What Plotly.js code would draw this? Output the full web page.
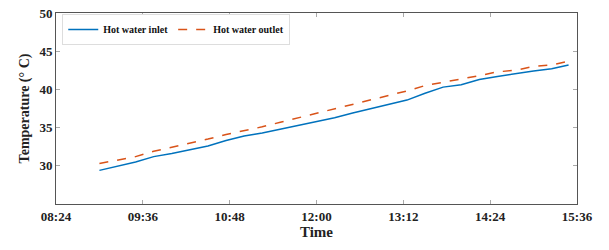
<!DOCTYPE html>
<html>
<head>
<meta charset="utf-8">
<script src="https://cdn.plot.ly/plotly-3.0.1.min.js"></script>
<style>html,body{margin:0;padding:0;background:#fff;}#chart{width:609px;height:250px;}</style>
</head>
<body>
<div id="chart"></div>
<script>
const times = ["09:00","09:15","09:30","09:45","10:00","10:15","10:30","10:45","11:00","11:15","11:30","11:45","12:00","12:15","12:30","12:45","13:00","13:15","13:30","13:45","14:00","14:15","14:30","14:45","15:00","15:15","15:29"];
const inletTemp = [29.4,29.9,30.5,31.2,31.6,32.1,32.6,33.3,33.9,34.3,34.8,35.2,35.8,36.3,36.9,37.5,38.1,38.6,39.5,40.3,40.6,41.3,41.7,42.1,42.4,42.7,43.2];
const outletTemp = [30.3,30.7,31.2,31.9,32.4,33.0,33.5,34.1,34.6,35.1,35.7,36.3,36.8,37.4,38.0,38.6,39.2,39.8,40.5,40.9,41.3,41.8,42.3,42.5,43.0,43.2,43.7];
const yTicks = [30,35,40,45,50];
const seriesNames = ["Hot water inlet","Hot water outlet"];

const day = "2020-01-01 ";
const x = times.map(t => day + t);
const font = "Liberation Serif, Times New Roman, serif";

const traces = [
  {x: x, y: inletTemp, name: seriesNames[0], type: "scatter", mode: "lines",
   line: {color: "#0072BD", width: 1.5}},
  {x: x, y: outletTemp, name: seriesNames[1], type: "scatter", mode: "lines",
   line: {color: "#D95319", width: 1.5, dash: "dash"}}
];

const layout = {
  width: 609, height: 250,
  margin: {l: 56, r: 32, t: 13, b: 46},
  paper_bgcolor: "#fff", plot_bgcolor: "#fff",
  font: {family: font, color: "#262626"},
  showlegend: true,
  legend: {orientation: "h", x: 0.012, y: 0.995, xanchor: "left", yanchor: "top",
    font: {family: font, size: 10, color: "#111", weight: "bold"},
    bgcolor: "#fff", bordercolor: "#ddd", borderwidth: 1,
    itemwidth: 30, tracegroupgap: 0},
  xaxis: {
    type: "date",
    range: [day + "08:24", day + "15:36"],
    tick0: day + "08:24", dtick: 72 * 60 * 1000,
    tickformat: "%H:%M",
    ticks: "inside", ticklen: 4, tickcolor: "#aaa",
    showline: true, linecolor: "#555", linewidth: 1, mirror: "ticks",
    showgrid: false, zeroline: false,
    tickfont: {family: font, size: 13, color: "#222", weight: "bold"},
    title: {text: "Time", font: {family: font, size: 15, color: "#222", weight: "bold"}, standoff: 2}
  },
  yaxis: {
    range: [25, 50],
    tickvals: yTicks,
    ticks: "inside", ticklen: 4, tickcolor: "#aaa",
    showline: true, linecolor: "#555", linewidth: 1, mirror: "ticks",
    showgrid: false, zeroline: false,
    tickfont: {family: font, size: 13, color: "#222", weight: "bold"},
    title: {text: "Temperature (° C)", font: {family: font, size: 14, color: "#222", weight: "bold"}, standoff: 6}
  }
};

Plotly.newPlot("chart", traces, layout, {displayModeBar: false, staticPlot: true});
</script>
</body>
</html>
